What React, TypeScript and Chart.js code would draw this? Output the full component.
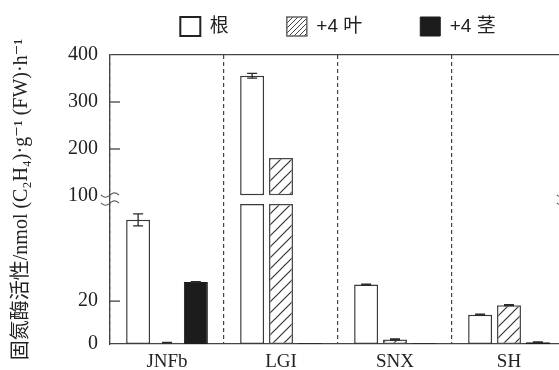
import React, { useEffect, useRef } from 'react';
import { Chart, registerables } from 'chart.js';

Chart.register(...registerables);

// ---- data ----
const CATEGORIES = ['JNFb', 'LGI', 'SNX', 'SH'];
const SERIES_NAMES = ['根', '+4 叶', '+4 茎'];
const ROOT = [57.9, 356, 27.7, 13.7];
const LEAF = [0.6, 181, 2.1, 18.1];
const STEM = [28.9, 0.3, 0.3, 0.8];
const ROOT_ERR = [2.8, 5, 0.2, 0.2];
const LEAF_ERR = [0.2, 0, 0.3, 0.2];
const STEM_ERR = [0.2, 0, 0, 0.2];
const LOW_TICKS = [0, 20];
const HIGH_TICKS = [100, 200, 300, 400];
const INNER_TICKS_LOW = [20];
const INNER_TICKS_HIGH = [200, 300];
const LOW_MAX = 65.3;
const HIGH_MIN = 83;
const HIGH_MAX = 400;
const BREAK_BASE = 100;
const Y_TITLE = '固氮酶活性/nmol (C₂H₄)·g⁻¹ (FW)·h⁻¹';

const SERIF = '"Liberation Serif", "Times New Roman", "DejaVu Serif", "Noto Sans CJK SC", serif';
const SANS = '"Liberation Sans", Arial, "Noto Sans CJK SC", sans-serif';
const INK = '#2a2a2a';

function makeHatch(spacing: number, lineWidth: number, color: string) {
  const c = document.createElement('canvas');
  c.width = spacing;
  c.height = spacing;
  const g = c.getContext('2d')!;
  g.fillStyle = '#fff';
  g.fillRect(0, 0, spacing, spacing);
  g.strokeStyle = color;
  g.lineWidth = lineWidth;
  g.beginPath();
  g.moveTo(0, spacing);
  g.lineTo(spacing, 0);
  g.moveTo(-spacing / 2, spacing / 2);
  g.lineTo(spacing / 2, -spacing / 2);
  g.moveTo(spacing / 2, spacing * 1.5);
  g.lineTo(spacing * 1.5, spacing / 2);
  g.stroke();
  return g.createPattern(c, 'repeat')!;
}

function squiggle(ctx: CanvasRenderingContext2D, cx: number, cy: number, w: number, a: number) {
  ctx.beginPath();
  const n = 16;
  for (let i = 0; i <= n; i++) {
    const t = i / n;
    const x = cx - w / 2 + w * t;
    const y = cy + a * Math.sin(2 * Math.PI * t);
    if (i === 0) ctx.moveTo(x, y);
    else ctx.lineTo(x, y);
  }
  ctx.stroke();
}

const decorPlugin = {
  id: 'decor',
  afterDatasetsDraw(chart: any) {
    const ctx: CanvasRenderingContext2D = chart.ctx;
    const yLow = chart.scales.yLow;
    const yHigh = chart.scales.yHigh;
    const area = chart.chartArea;
    ctx.save();
    // error bars
    const groups: [number, number, number[], number[]][] = [
      [0, 3, ROOT, ROOT_ERR],
      [1, 4, LEAF, LEAF_ERR],
      [2, 5, STEM, STEM_ERR],
    ];
    ctx.strokeStyle = INK;
    ctx.lineWidth = 1.3;
    for (const [li, hi, vals, errs] of groups) {
      vals.forEach((v, i) => {
        const e = errs[i];
        if (!e) return;
        const high = v > BREAK_BASE;
        const meta = chart.getDatasetMeta(high ? hi : li);
        const bar = meta.data[i];
        if (!bar) return;
        const sc = high ? yHigh : yLow;
        const x = bar.x;
        const y1 = sc.getPixelForValue(v + e);
        const y2 = sc.getPixelForValue(Math.max(v - e, 0));
        ctx.beginPath();
        ctx.moveTo(x, y1);
        ctx.lineTo(x, y2);
        ctx.moveTo(x - 5, y1);
        ctx.lineTo(x + 5, y1);
        ctx.moveTo(x - 5, y2);
        ctx.lineTo(x + 5, y2);
        ctx.stroke();
      });
    }
    // inner tick marks
    ctx.strokeStyle = '#444';
    ctx.lineWidth = 1.3;
    const tickAt = (y: number) => {
      ctx.beginPath();
      ctx.moveTo(area.left, y);
      ctx.lineTo(area.left + 10, y);
      ctx.stroke();
    };
    INNER_TICKS_HIGH.forEach((v) => tickAt(yHigh.getPixelForValue(v)));
    INNER_TICKS_LOW.forEach((v) => tickAt(yLow.getPixelForValue(v)));
    // axis break marks
    ctx.lineWidth = 1.1;
    ctx.strokeStyle = '#555';
    const yb1 = yHigh.getPixelForValue(BREAK_BASE) - 1;
    const yb2 = yLow.getPixelForValue(LOW_MAX) - 1;
    for (const xb of [area.left, area.right]) {
      squiggle(ctx, xb, yb1, 18, 2.2);
      squiggle(ctx, xb, yb2, 18, 2.2);
    }
    ctx.restore();
  },
};

export default function App() {
  const ref = useRef<HTMLCanvasElement>(null);
  useEffect(() => {
    const canvas = ref.current!;
    const hatch = makeHatch(11, 1.2, '#333');
    const hatchLegend = makeHatch(5, 1, '#444');
    const lowData = (arr: number[]) => arr.map((v) => Math.min(v, LOW_MAX));
    const highData = (arr: number[]) => arr.map((v) => (v > BREAK_BASE ? v : null));
    const styles = [
      { backgroundColor: '#ffffff', borderColor: '#3a3a3a', borderWidth: 1.5 },
      { backgroundColor: hatch, borderColor: '#4a4a4a', borderWidth: 1.5 },
      { backgroundColor: '#1c1c1c', borderColor: '#1c1c1c', borderWidth: 1 },
    ];
    const seriesVals = [ROOT, LEAF, STEM];
    const stacks = ['root', 'leaf', 'stem'];
    const datasets: any[] = [];
    seriesVals.forEach((vals, k) => {
      datasets.push({
        label: SERIES_NAMES[k],
        data: lowData(vals),
        yAxisID: 'yLow',
        stack: stacks[k],
        borderSkipped: false,
        ...styles[k],
      });
    });
    seriesVals.forEach((vals, k) => {
      datasets.push({
        label: SERIES_NAMES[k] + ' (high)',
        data: highData(vals),
        yAxisID: 'yHigh',
        stack: stacks[k],
        base: BREAK_BASE,
        borderSkipped: false,
        ...styles[k],
      });
    });

    const chart = new Chart(canvas, {
      type: 'bar',
      data: { labels: CATEGORIES, datasets },
      plugins: [decorPlugin],
      options: {
        responsive: false,
        animation: false,
        devicePixelRatio: 1,
        events: [],
        categoryPercentage: 0.76,
        barPercentage: 0.83,
        layout: { padding: { top: -41, left: 0, right: 0, bottom: 0 } },
        plugins: {
          tooltip: { enabled: false },
          title: {
            display: true,
            text: '',
            weight: 500,
            fullSize: false,
            font: { size: 1, lineHeight: 1 },
            padding: { top: 0, bottom: 8 },
          },
          legend: {
            display: true,
            position: 'top',
            align: 'center',
            fullSize: false,
            labels: {
              boxWidth: 20,
              boxHeight: 19,
              padding: 58,
              color: '#222',
              font: { size: 19, family: SANS },
              generateLabels: (ch: any) => {
                const items = (Chart.defaults.plugins.legend.labels as any)
                  .generateLabels(ch)
                  .filter((it: any) => it.datasetIndex < 3);
                items[0].lineWidth = 2;
                items[0].strokeStyle = '#222';
                items[0].fillStyle = '#fff';
                items[1].fillStyle = hatchLegend;
                items[1].strokeStyle = '#666';
                items[1].lineWidth = 1.5;
                items[2].fillStyle = '#1c1c1c';
                items[2].strokeStyle = '#1c1c1c';
                return items;
              },
            },
          },
        },
        scales: {
          x: {
            type: 'category',
            offset: true,
            grid: { display: true, offset: true, drawTicks: false, color: '#444', lineWidth: 1.2 },
            border: { display: true, color: '#444', width: 1.3, dash: [4, 3] },
            ticks: { color: '#222', padding: 7, font: { size: 19, family: SERIF } },
            afterFit: (s: any) => {
              s.height = 26;
            },
          },
          yTitle: {
            type: 'linear',
            position: 'left',
            weight: 10,
            display: true,
            grid: { display: false },
            border: { display: false },
            ticks: { display: false },
            title: {
              display: true,
              text: Y_TITLE,
              color: '#222',
              font: { size: 20, family: SERIF },
              padding: { top: 10, bottom: 0 },
            },
            afterFit: (s: any) => {
              s.width = 42;
            },
          },
          yLow: {
            type: 'linear',
            position: 'left',
            stack: 'v',
            stackWeight: 140,
            stacked: false,
            min: 0,
            max: LOW_MAX,
            grid: { display: false, drawTicks: false },
            border: { display: true, color: '#444', width: 1.3 },
            ticks: { color: '#222', padding: 12, font: { size: 20, family: SERIF } },
            afterBuildTicks: (s: any) => {
              s.ticks = LOW_TICKS.map((v) => ({ value: v }));
            },
            afterFit: (s: any) => {
              s.width = 68;
            },
          },
          yHigh: {
            type: 'linear',
            position: 'left',
            stack: 'v',
            stackWeight: 149,
            stacked: false,
            min: HIGH_MIN,
            max: HIGH_MAX,
            grid: {
              display: true,
              drawTicks: false,
              lineWidth: 1.3,
              color: (c: any) => (c.tick && c.tick.value === HIGH_MAX ? '#444' : 'rgba(0,0,0,0)'),
            },
            border: { display: true, color: '#444', width: 1.3 },
            ticks: { color: '#222', padding: 12, font: { size: 20, family: SERIF } },
            afterBuildTicks: (s: any) => {
              s.ticks = HIGH_TICKS.map((v) => ({ value: v }));
            },
            afterFit: (s: any) => {
              s.width = 68;
            },
          },
        },
      } as any,
    });
    return () => chart.destroy();
  }, []);

  return (
    <div
      style={{
        position: 'fixed',
        left: 0,
        top: 0,
        width: 559,
        height: 370,
        overflow: 'hidden',
        background: '#fff',
      }}
    >
      <canvas ref={ref} width={566} height={370} style={{ display: 'block', width: 566, height: 370 }} />
    </div>
  );
}
